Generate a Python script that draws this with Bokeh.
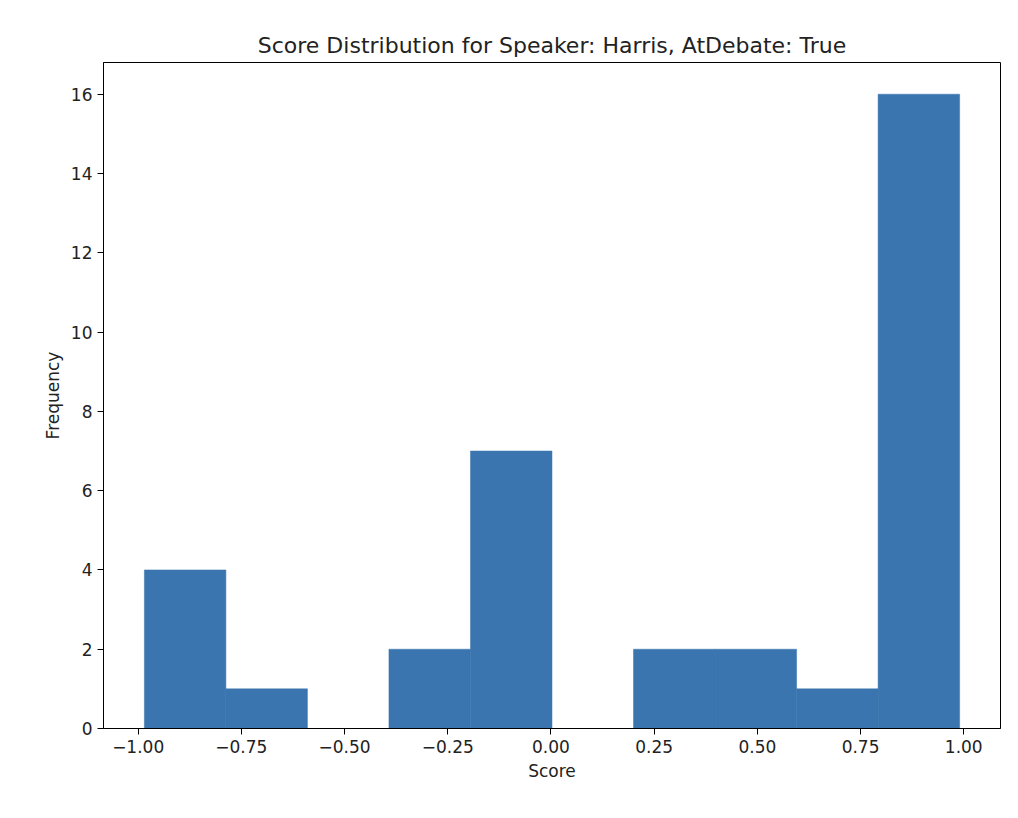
from bokeh.plotting import figure
from bokeh.models import Range1d, FixedTicker
from bokeh.embed import file_html
from bokeh.resources import INLINE

edges = [-0.985, -0.7875, -0.59, -0.3925, -0.195, 0.0025, 0.2, 0.3975, 0.595, 0.7925, 0.99]
counts = [4, 1, 0, 2, 7, 0, 2, 2, 1, 16]
xticks = [-1.0, -0.75, -0.5, -0.25, 0.0, 0.25, 0.5, 0.75, 1.0]
yticks = [0, 2, 4, 6, 8, 10, 12, 14, 16]

p = figure(width=1010, height=810, output_backend="svg", toolbar_location=None,
           x_range=Range1d(-1.084, 1.089), y_range=Range1d(0, 16.8),
           title="Score Distribution for Speaker: Harris, AtDebate: True",
           min_border_left=103, min_border_right=10, min_border_top=62, min_border_bottom=82)
p.quad(left=edges[:-1], right=edges[1:], bottom=0, top=counts,
       fill_color="#3a75af", line_color="#3a75af", line_width=0.5)
p.title.align = "center"
p.title.text_font = "DejaVu Sans"
p.title.text_font_size = "22px"
p.title.text_font_style = "normal"
p.title.text_color = "#222222"
p.grid.visible = False
p.outline_line_color = "black"
p.xaxis.ticker = FixedTicker(ticks=xticks)
p.yaxis.ticker = FixedTicker(ticks=yticks)
p.xaxis.major_label_overrides = {t: ("%.2f" % t).replace("-", "\u2212") for t in xticks}
p.xaxis.axis_label = "Score"
p.yaxis.axis_label = "Frequency"
for ax in (p.xaxis[0], p.yaxis[0]):
    ax.major_label_text_font = "DejaVu Sans"
    ax.major_label_text_font_size = "17px"
    ax.major_label_text_color = "#222222"
    ax.axis_label_text_font = "DejaVu Sans"
    ax.axis_label_text_font_size = "17px"
    ax.axis_label_text_font_style = "normal"
    ax.axis_label_text_color = "#222222"
    ax.minor_tick_line_color = None
    ax.major_tick_out = 6
    ax.major_tick_in = 0
    ax.axis_line_color = "black"
    ax.major_tick_line_color = "black"
p.yaxis.major_label_orientation = "horizontal"

open("out.html", "w").write(file_html(p, INLINE))
